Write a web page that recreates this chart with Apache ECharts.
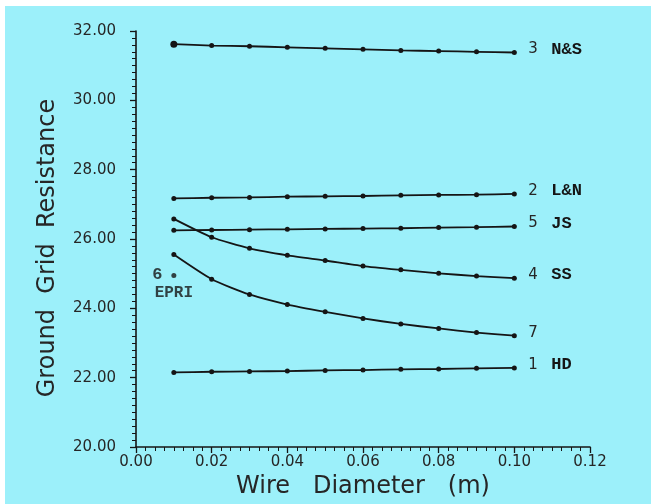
<!DOCTYPE html>
<html>
<head>
<meta charset="utf-8">
<script src="https://cdn.jsdelivr.net/npm/echarts@6/dist/echarts.min.js"></script>
<style>
  html, body { margin: 0; padding: 0; background: #ffffff; }
  #chart { width: 654px; height: 504px; }
</style>
</head>
<body>
<div id="chart"></div>
<script>
// Wire diameter (m) at which each grid was evaluated
var wireDiameter = [0.01, 0.02, 0.03, 0.04, 0.05, 0.06, 0.07, 0.08, 0.09, 0.10];

// Ground grid resistance for each method
var resNS  = [31.62, 31.58, 31.56, 31.53, 31.50, 31.47, 31.44, 31.42, 31.40, 31.38];
var resLN  = [27.17, 27.19, 27.20, 27.22, 27.23, 27.24, 27.26, 27.27, 27.28, 27.30];
var resJS  = [26.25, 26.26, 26.27, 26.28, 26.29, 26.30, 26.31, 26.33, 26.34, 26.36];
var resSS  = [26.58, 26.05, 25.73, 25.53, 25.38, 25.22, 25.11, 25.01, 24.93, 24.87];
var res7   = [25.55, 24.84, 24.40, 24.11, 23.90, 23.71, 23.55, 23.42, 23.30, 23.21];
var resHD  = [22.15, 22.17, 22.18, 22.19, 22.21, 22.22, 22.24, 22.25, 22.27, 22.28];

// Single EPRI result
var epriPoint = [0.01, 24.95];

// Curve tags: number and method name
var curveNumbers = ['3', '2', '5', '4', '7', '1'];
var curveNames   = ['N&S', 'L&N', 'JS', 'SS', '', 'HD'];
var curveValues  = [resNS, resLN, resJS, resSS, res7, resHD];

// Axis ranges, labelled steps and small tick steps
var yTicks = { min: 20, max: 32, step: 2, minorStep: 0.2 };
var xTicks = { min: 0, max: 0.12, step: 0.02, minorStep: 0.0025 };

var ink = '#151515';
var textInk = '#262626';
var sansFont = '"DejaVu Sans", Lato, sans-serif';
var monoFont = '"Liberation Mono", "DejaVu Sans Mono", monospace';

function pairs(values) {
  return wireDiameter.map(function (x, i) { return [x, values[i]]; });
}

var series = curveValues.map(function (vals, k) {
  var tag = '{n|' + curveNumbers[k] + '}' + (curveNames[k] ? '{t|' + curveNames[k] + '}' : '');
  return {
    type: 'line',
    data: pairs(vals),
    smooth: 0.2,
    symbol: 'circle',
    symbolSize: function (v, p) { return (k === 0 && p.dataIndex === 0) ? 7 : 5; },
    showAllSymbol: true,
    lineStyle: { color: ink, width: 1.8 },
    itemStyle: { color: ink },
    endLabel: {
      show: true,
      formatter: tag,
      offset: [6, -3],
      rich: {
        n: { fontFamily: sansFont, fontSize: 15, color: textInk, width: 23,
             lineHeight: 18, verticalAlign: 'middle' },
        t: { fontFamily: monoFont, fontSize: 17, fontWeight: 'bold', color: ink,
             lineHeight: 18, verticalAlign: 'middle' }
      }
    },
    emphasis: { disabled: true },
    z: 3
  };
});

series.push({
  type: 'scatter',
  data: [epriPoint],
  symbol: 'circle',
  symbolSize: 5,
  itemStyle: { color: ink },
  label: {
    show: true,
    position: 'left',
    distance: 9,
    offset: [0, -1],
    formatter: '6',
    fontFamily: monoFont, fontSize: 17, fontWeight: 'bold', color: ink
  },
  z: 4
});
series.push({
  type: 'scatter',
  data: [epriPoint],
  symbolSize: 0,
  label: {
    show: true,
    position: 'bottom',
    distance: 10,
    formatter: 'EPRI',
    fontFamily: monoFont, fontSize: 16, fontWeight: 'bold', color: ink
  },
  z: 4
});

function fixed2(v) { return v.toFixed(2); }

var chart = echarts.init(document.getElementById('chart'), null, { renderer: 'canvas' });
chart.setOption({
  animation: false,
  backgroundColor: '#ffffff',
  graphic: [{
    type: 'rect',
    shape: { x: 5, y: 6, width: 646, height: 498 },
    style: { fill: '#9cf0fa' },
    z: -10, silent: true
  }],
  grid: { left: 136, top: 31, width: 454, height: 416 },
  xAxis: [{
    type: 'value',
    min: xTicks.min, max: xTicks.max, interval: xTicks.step,
    name: 'Wire   Diameter   (m)',
    nameLocation: 'middle',
    nameGap: 26,
    nameTextStyle: { fontFamily: sansFont, fontSize: 24, color: textInk },
    axisLine: { lineStyle: { color: ink, width: 1.6 } },
    axisTick: { show: true, length: 6, lineStyle: { color: ink, width: 1.3 } },
    splitLine: { show: false },
    axisLabel: { margin: 8, formatter: fixed2, fontFamily: sansFont, fontSize: 15, color: textInk }
  }, {
    // fine graduation under the bottom axis
    type: 'value', position: 'bottom',
    min: xTicks.min, max: xTicks.max, interval: xTicks.minorStep,
    axisLine: { show: false },
    axisTick: { show: true, length: 4, lineStyle: { color: ink, width: 1 } },
    axisLabel: { show: false },
    splitLine: { show: false }
  }],
  yAxis: [{
    type: 'value',
    min: yTicks.min, max: yTicks.max, interval: yTicks.step,
    name: 'Ground  Grid  Resistance',
    nameLocation: 'middle',
    nameGap: 76,
    nameTextStyle: { fontFamily: sansFont, fontSize: 24, color: textInk, padding: [0, 18, 0, 0] },
    axisLine: { show: true, lineStyle: { color: ink, width: 1.6 } },
    axisTick: { show: true, length: 6, lineStyle: { color: ink, width: 1.3 } },
    splitLine: { show: false },
    axisLabel: { margin: 20, formatter: fixed2, fontFamily: sansFont, fontSize: 15, color: textInk }
  }, {
    // fine graduation beside the left axis
    type: 'value', position: 'left',
    min: yTicks.min, max: yTicks.max, interval: yTicks.minorStep,
    axisLine: { show: false },
    axisTick: { show: true, length: 4, lineStyle: { color: ink, width: 1 } },
    axisLabel: { show: false },
    splitLine: { show: false }
  }],
  series: series
});
</script>
</body>
</html>
